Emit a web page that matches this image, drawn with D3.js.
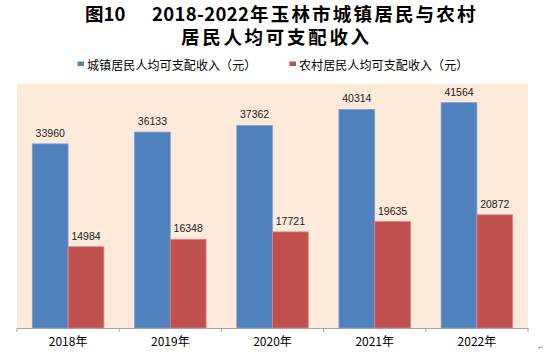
<!DOCTYPE html>
<html><head><meta charset="utf-8">
<script src="https://cdn.jsdelivr.net/npm/d3@7"></script>
<style>html,body{margin:0;padding:0;background:#fff;}svg{display:block;}</style>
</head><body>
<svg id="c" width="544" height="356"></svg>
<script>
const categories = ["2018年","2019年","2020年","2021年","2022年"];
const seriesNames = ["城镇居民人均可支配收入（元）","农村居民人均可支配收入（元）"];
const urban = [33960, 36133, 37362, 40314, 41564];
const rural = [14984, 16348, 17721, 19635, 20872];
const colors = ["#4F81BD", "#C0504D"];
const titleParts = ["图10", "2018-2022", "年玉林市城镇居民与农村"];
const titleLine2 = "居民人均可支配收入";

const svg = d3.select("#c");
const plot = {left: 17, right: 528, top: 84, bottom: 328};
const font = "'Liberation Sans','Noto Sans CJK SC',sans-serif";
const cjk = "'Noto Sans CJK SC',sans-serif";

function titleText(x, y, s, ls, len) {
  const t = svg.append("text").attr("x",x).attr("y",y).attr("font-weight","bold")
    .attr("font-family", cjk).attr("font-size",18.5).attr("fill","#000")
    .style("letter-spacing", ls + "px").text(s);
  if (len) t.attr("textLength", len).attr("lengthAdjust","spacing");
  return t;
}
titleText(85, 21, titleParts[0], 0);
titleText(152, 21, titleParts[1], 0, 97);
titleText(250, 21, titleParts[2], 2.2);
titleText(181, 43.5, titleLine2, 2.7);

// legend
const leg = [{x:77.5, t:seriesNames[0], c:colors[0]},{x:289.5, t:seriesNames[1], c:colors[1]}];
leg.forEach(l=>{
  svg.append("rect").attr("x",l.x).attr("y",61.5).attr("width",6.5).attr("height",4.5).attr("fill",l.c);
  svg.append("text").attr("x",l.x+9.5).attr("y",69.5).attr("font-size",12).attr("font-family",cjk)
    .style("letter-spacing","0.1px").attr("fill","#000").text(l.t);
});

// plot background
svg.append("rect").attr("x",plot.left).attr("y",plot.top)
  .attr("width",plot.right-plot.left).attr("height",plot.bottom-plot.top).attr("fill","#FDEADA");

const x0 = d3.scaleBand().domain(categories).range([plot.left, plot.right]);
const barW = x0.bandwidth()*0.35;
const gap = (x0.bandwidth()-2*barW)/2;
const y = d3.scaleLinear().domain([0,45000]).range([plot.bottom, plot.top]);

const series = [urban, rural];
series.forEach((vals, si)=>{
  const g = svg.append("g");
  g.selectAll("rect").data(vals).join("rect")
    .attr("x",(d,i)=>x0(categories[i])+gap+si*barW)
    .attr("y",d=>y(d))
    .attr("width",barW)
    .attr("height",d=>y(0)-y(d))
    .attr("fill",colors[si])
    .attr("stroke", si===0 ? "#7FA3D1" : "#D98583").attr("stroke-width",0.8);
  g.selectAll("text").data(vals).join("text")
    .attr("x",(d,i)=>x0(categories[i])+gap+si*barW+barW/2)
    .attr("y",d=>y(d)-7)
    .attr("text-anchor","middle").attr("font-size",10.5).attr("font-family",font)
    .attr("fill","#222").text(d=>d);
});

// x axis
const axis = d3.axisBottom(x0).tickSize(0).tickPadding(9);
const ax = svg.append("g").attr("transform",`translate(0,${plot.bottom})`).call(axis);
ax.select(".domain").attr("stroke","#A6A6A6");
ax.selectAll("text").attr("font-size",12).attr("font-family",cjk).attr("fill","#000");
// boundary ticks
const bounds = categories.map(c=>x0(c)).concat([plot.right]);
svg.append("g").selectAll("line").data(bounds).join("line")
  .attr("x1",d=>d).attr("x2",d=>d).attr("y1",plot.bottom).attr("y2",plot.bottom+4)
  .attr("stroke","#A6A6A6");

// paragraph mark
svg.append("text").attr("x",537.5).attr("y",350).attr("font-size",7).attr("font-family",font)
  .attr("fill","#888").text("↵");
</script>
</body></html>
